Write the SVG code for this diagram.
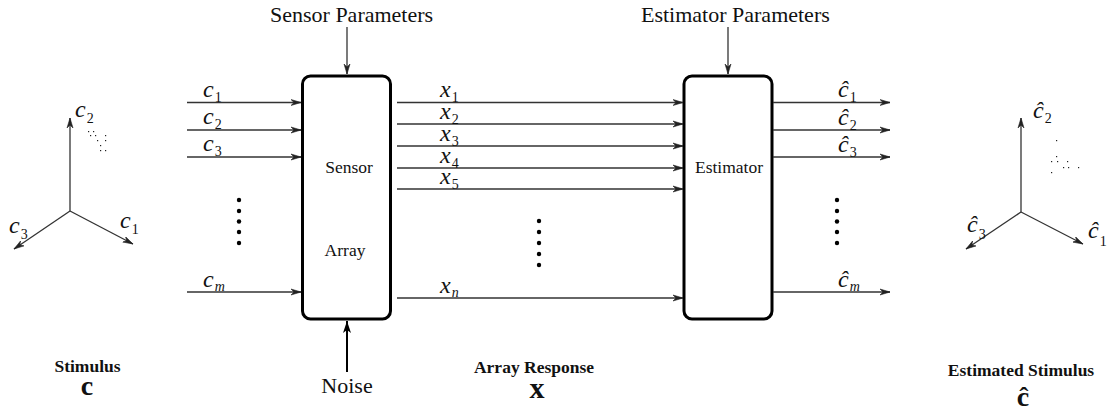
<svg xmlns="http://www.w3.org/2000/svg" width="1109" height="410" viewBox="0 0 1109 410">
<defs>
<marker id="ah" markerUnits="userSpaceOnUse" markerWidth="14" markerHeight="10" refX="10" refY="5" orient="auto">
<path d="M0,2 L10,5 L0,8 L3,5 Z" fill="#222" stroke="#222" stroke-width="0.6"/>
</marker>
<marker id="ahb" markerUnits="userSpaceOnUse" markerWidth="14" markerHeight="14" refX="12" refY="6" orient="auto">
<path d="M0,2 L12,6 L0,10 L3,6 Z" fill="#000"/>
</marker>
</defs>
<style>
.t{font-family:"Liberation Serif","Times New Roman",serif;fill:#111}
.i{font-family:"Liberation Serif","Times New Roman",serif;font-style:italic;font-size:24px;fill:#111}
.s{font-style:normal;font-size:14px}
.sm{font-style:italic;font-size:14px}
.b{font-family:"Liberation Serif","Times New Roman",serif;font-weight:bold;fill:#111}
.ln{stroke:#333;stroke-width:1.3;fill:none;marker-end:url(#ah)}
.box{fill:#fff;stroke:#000;stroke-width:3}
.dot{fill:#000}
.pt{fill:#222}
</style>
<rect width="1109" height="410" fill="#fff"/>

<g id="stimulus-axes">
<line class="ln" x1="70" y1="211" x2="70" y2="118"/>
<line class="ln" x1="70" y1="211" x2="133" y2="244"/>
<line class="ln" x1="70" y1="211" x2="14" y2="249"/>
<text class="i" x="75" y="117">c<tspan class="s" dx="1" dy="6">2</tspan></text>
<text class="i" x="120" y="228">c<tspan class="s" dx="1" dy="6">1</tspan></text>
<text class="i" x="9" y="233">c<tspan class="s" dx="1" dy="6">3</tspan></text>
<g class="pt">
<rect x="88" y="131" width="1.2" height="1.2"/><rect x="93" y="131" width="1.2" height="1.2"/>
<rect x="90" y="135" width="1.2" height="1.2"/><rect x="95" y="135" width="1.2" height="1.2"/><rect x="105" y="135" width="1.2" height="1.2"/>
<rect x="97" y="140" width="1.2" height="1.2"/><rect x="105" y="140" width="1.2" height="1.2"/>
<rect x="100" y="145" width="1.2" height="1.2"/>
<rect x="100" y="150" width="1.2" height="1.2"/><rect x="105" y="150" width="1.2" height="1.2"/>
</g>
<text class="b" x="87.5" y="372" font-size="17.5" text-anchor="middle">Stimulus</text>
<text class="b" x="87" y="395" font-size="28" text-anchor="middle">c</text>
</g>

<g id="sensor-array">
<rect class="box" x="302.5" y="76" width="88" height="243" rx="8"/>
<text class="t" x="349" y="173" font-size="17.5" text-anchor="middle">Sensor</text>
<text class="t" x="345" y="256" font-size="17.5" text-anchor="middle">Array</text>
</g>

<g id="estimator">
<rect class="box" x="684" y="76" width="88" height="243" rx="8"/>
<text class="t" x="729" y="173" font-size="17.5" text-anchor="middle">Estimator</text>
</g>

<g id="sensor-parameters">
<text class="t" x="270" y="22" font-size="22">Sensor Parameters</text>
</g>
<g id="estimator-parameters">
<text class="t" x="641" y="22" font-size="22">Estimator Parameters</text>
</g>
<g id="noise">
<text class="t" x="347" y="393" font-size="22" text-anchor="middle">Noise</text>
</g>

<g id="connectors">
<line class="ln" x1="347" y1="27" x2="347" y2="74"/>
<line class="ln" x1="728" y1="27" x2="728" y2="74"/>
<line x1="347" y1="372" x2="347" y2="321" stroke="#000" stroke-width="2" marker-end="url(#ahb)"/>
<line class="ln" x1="187" y1="102.5" x2="301" y2="102.5"/>
<line class="ln" x1="187" y1="130" x2="301" y2="130"/>
<line class="ln" x1="187" y1="157" x2="301" y2="157"/>
<line class="ln" x1="187" y1="292" x2="301" y2="292"/>
<line class="ln" x1="397" y1="102.5" x2="683" y2="102.5"/>
<line class="ln" x1="397" y1="124" x2="683" y2="124"/>
<line class="ln" x1="397" y1="146" x2="683" y2="146"/>
<line class="ln" x1="397" y1="168" x2="683" y2="168"/>
<line class="ln" x1="397" y1="189" x2="683" y2="189"/>
<line class="ln" x1="397" y1="298" x2="683" y2="298"/>
<line class="ln" x1="773" y1="102.5" x2="890" y2="102.5"/>
<line class="ln" x1="773" y1="130" x2="890" y2="130"/>
<line class="ln" x1="773" y1="157" x2="890" y2="157"/>
<line class="ln" x1="773" y1="292" x2="890" y2="292"/>
</g>

<g id="input-labels">
<text class="i" x="203" y="97">c<tspan class="s" dx="1" dy="5">1</tspan></text>
<text class="i" x="203" y="124">c<tspan class="s" dx="1" dy="5">2</tspan></text>
<text class="i" x="203" y="151">c<tspan class="s" dx="1" dy="5">3</tspan></text>
<text class="i" x="203" y="287">c<tspan class="sm" dx="1" dy="4">m</tspan></text>
<circle class="dot" cx="239" cy="200" r="2.2"/><circle class="dot" cx="239" cy="211" r="2.2"/><circle class="dot" cx="239" cy="221.5" r="2.2"/><circle class="dot" cx="239" cy="232" r="2.2"/><circle class="dot" cx="239" cy="243" r="2.2"/>
</g>

<g id="response-labels">
<text class="i" x="440" y="97">x<tspan class="s" dx="1" dy="5">1</tspan></text>
<text class="i" x="440" y="119">x<tspan class="s" dx="1" dy="5">2</tspan></text>
<text class="i" x="440" y="141">x<tspan class="s" dx="1" dy="5">3</tspan></text>
<text class="i" x="440" y="163">x<tspan class="s" dx="1" dy="5">4</tspan></text>
<text class="i" x="440" y="184">x<tspan class="s" dx="1" dy="5">5</tspan></text>
<text class="i" x="440" y="293">x<tspan class="sm" dx="1" dy="4">n</tspan></text>
<circle class="dot" cx="539" cy="221" r="2.2"/><circle class="dot" cx="539" cy="232" r="2.2"/><circle class="dot" cx="539" cy="243" r="2.2"/><circle class="dot" cx="539" cy="254" r="2.2"/><circle class="dot" cx="539" cy="265" r="2.2"/>
<text class="b" x="534" y="373" font-size="17.5" text-anchor="middle">Array Response</text>
<text class="b" x="537" y="398" font-size="30" text-anchor="middle">x</text>
</g>

<g id="output-labels">
<text class="i" x="838" y="97">ĉ<tspan class="s" dx="1" dy="5">1</tspan></text>
<text class="i" x="838" y="125">ĉ<tspan class="s" dx="1" dy="5">2</tspan></text>
<text class="i" x="838" y="152">ĉ<tspan class="s" dx="1" dy="5">3</tspan></text>
<text class="i" x="838" y="287">ĉ<tspan class="sm" dx="1" dy="4">m</tspan></text>
<circle class="dot" cx="837" cy="200" r="2.2"/><circle class="dot" cx="837" cy="211" r="2.2"/><circle class="dot" cx="837" cy="221.5" r="2.2"/><circle class="dot" cx="837" cy="232" r="2.2"/><circle class="dot" cx="837" cy="243" r="2.2"/>
</g>

<g id="estimated-axes">
<line class="ln" x1="1021" y1="212" x2="1021" y2="118"/>
<line class="ln" x1="1021" y1="212" x2="1083" y2="244"/>
<line class="ln" x1="1021" y1="212" x2="966" y2="249"/>
<text class="i" x="1033" y="118">ĉ<tspan class="s" dx="1" dy="5">2</tspan></text>
<text class="i" x="1088" y="238">ĉ<tspan class="s" dx="1" dy="8">1</tspan></text>
<text class="i" x="967" y="232">ĉ<tspan class="s" dx="1" dy="7">3</tspan></text>
<g class="pt">
<rect x="1056" y="140" width="1.2" height="1.2"/><rect x="1056" y="156" width="1.2" height="1.2"/>
<rect x="1051" y="161" width="1.2" height="1.2"/><rect x="1057" y="161" width="1.2" height="1.2"/><rect x="1067" y="161" width="1.2" height="1.2"/>
<rect x="1063" y="167" width="1.2" height="1.2"/><rect x="1068" y="167" width="1.2" height="1.2"/><rect x="1078" y="167" width="1.2" height="1.2"/>
<rect x="1051" y="172" width="1.2" height="1.2"/>
</g>
<text class="b" x="1021" y="376" font-size="17.5" text-anchor="middle">Estimated Stimulus</text>
<text class="b" x="1023" y="406" font-size="28" text-anchor="middle">ĉ</text>
</g>
</svg>
